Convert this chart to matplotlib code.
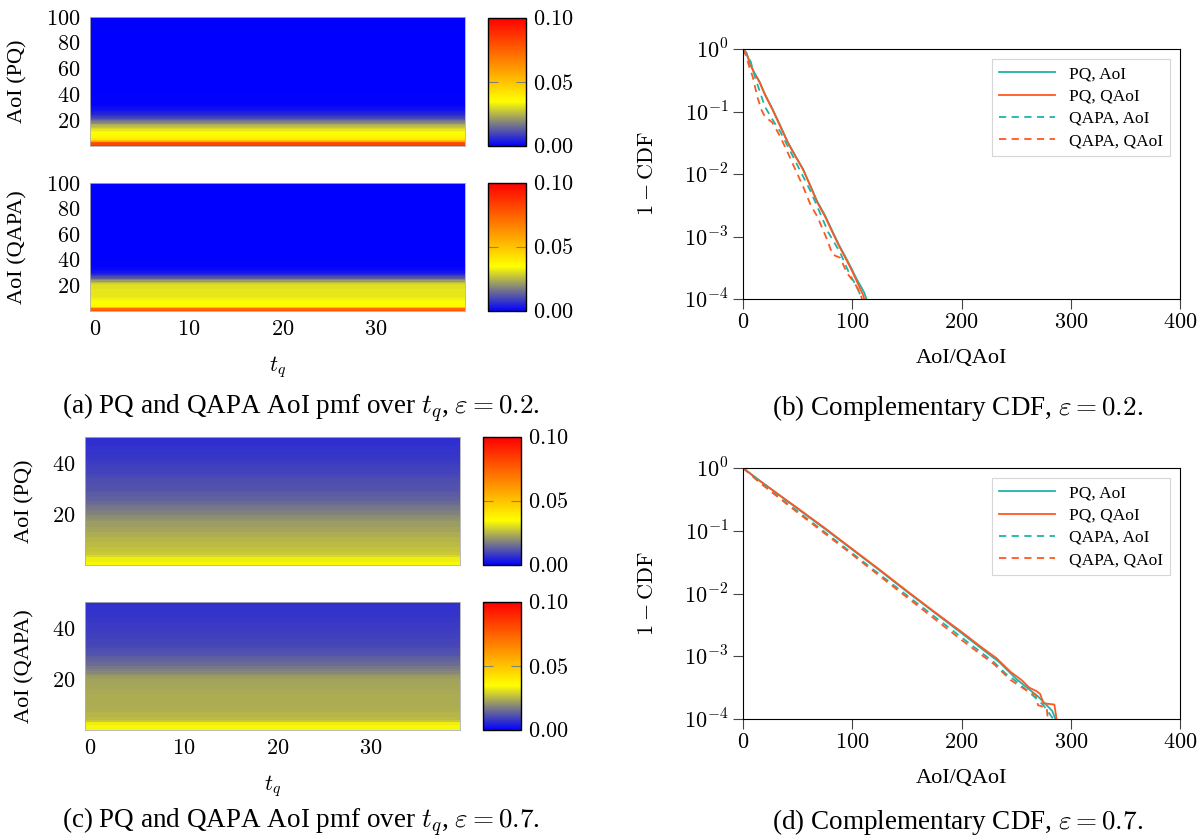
import numpy as np
import matplotlib
matplotlib.use('Agg')
import matplotlib.pyplot as plt
from matplotlib.colors import LinearSegmentedColormap
from matplotlib.ticker import FuncFormatter, FixedLocator, NullLocator

plt.rcParams['font.family'] = ['Liberation Serif', 'DejaVu Serif']
plt.rcParams['mathtext.fontset'] = 'cm'

#%% data ------------------------------------------------------------
t_q = np.arange(40)
aoi_02 = np.arange(1, 101)
aoi_07 = np.arange(1, 51)

# AoI pmf (same for every t_q), eps = 0.2
pmf_pq_02 = [0.085, 0.082, 0.078, 0.058, 0.050, 0.040, 0.037, 0.036, 0.036, 0.035,
             0.035, 0.034, 0.032, 0.030, 0.028, 0.026, 0.024, 0.021, 0.018, 0.016,
             0.013, 0.011, 0.009, 0.007, 0.006, 0.005, 0.004, 0.003, 0.0025, 0.002,
             0.0015, 0.001] + [0.0005]*8 + [0.0]*60
pmf_qapa_02 = [0.078, 0.072, 0.050, 0.038, 0.036, 0.036, 0.035, 0.035, 0.034, 0.033,
               0.033, 0.032, 0.032, 0.032, 0.032, 0.032, 0.032, 0.031, 0.031, 0.031,
               0.030, 0.029, 0.026, 0.022, 0.018, 0.014, 0.011, 0.008, 0.006, 0.004,
               0.003, 0.002, 0.0015, 0.001] + [0.0005]*6 + [0.0]*60
# eps = 0.7
pmf_pq_07 = [0.034, 0.033, 0.033, 0.030, 0.028, 0.027, 0.027, 0.026, 0.026, 0.025,
             0.025, 0.024, 0.024, 0.023, 0.023, 0.022, 0.022, 0.021, 0.020, 0.019,
             0.018, 0.0175, 0.017, 0.016, 0.015, 0.014, 0.0135, 0.013, 0.0125, 0.012,
             0.0118, 0.0115, 0.0112, 0.011, 0.0105, 0.010, 0.0097, 0.0094, 0.009, 0.0087,
             0.0085, 0.0082, 0.008, 0.0078, 0.0076, 0.0074, 0.0072, 0.007, 0.0069, 0.0068]
pmf_qapa_07 = [0.034, 0.034, 0.033, 0.028, 0.026, 0.025, 0.025, 0.0245, 0.0245, 0.024,
               0.024, 0.024, 0.024, 0.024, 0.0238, 0.0236, 0.0234, 0.0232, 0.023, 0.0228,
               0.022, 0.021, 0.019, 0.018, 0.017, 0.0155, 0.0145, 0.014, 0.013, 0.012,
               0.0115, 0.011, 0.0105, 0.010, 0.0098, 0.0095, 0.0093, 0.0091, 0.0089, 0.0087,
               0.0085, 0.0083, 0.0081, 0.0079, 0.0077, 0.0075, 0.0074, 0.0072, 0.0071, 0.007]

# complementary CDF, eps = 0.2
x_pq_aoi_02 = [0, 3, 7, 10, 15, 20, 27, 34, 41, 48, 55, 62, 68, 75, 82, 88, 93, 99, 104, 108, 111, 113]
y_pq_aoi_02 = [1.0, 0.871, 0.562, 0.427, 0.302, 0.191, 0.110, 0.0603, 0.0324, 0.0195, 0.0120,
               6.31e-3, 3.63e-3, 2.19e-3, 1.20e-3, 7.24e-4, 5.01e-4, 3.16e-4, 2.09e-4, 1.58e-4,
               1.26e-4, 1.0e-4]
x_pq_qaoi_02 = [0, 3, 7, 10, 15, 20, 27, 34, 41, 48, 55, 62, 68, 75, 82, 88, 93, 99, 104, 107, 110, 111]
y_pq_qaoi_02 = [1.0, 0.87, 0.55, 0.42, 0.30, 0.186, 0.107, 0.058, 0.0316, 0.0191, 0.0117,
                6.2e-3, 3.5e-3, 2.1e-3, 1.15e-3, 7.0e-4, 4.8e-4, 3.0e-4, 1.95e-4, 1.5e-4,
                1.15e-4, 1.0e-4]
x_qapa_aoi_02 = [0, 3, 7, 11, 15, 20, 27, 34, 44, 55, 62, 68, 78, 89, 97, 104, 109]
y_qapa_aoi_02 = [1.0, 0.832, 0.631, 0.355, 0.219, 0.120, 0.0741, 0.0479, 0.0219, 9.12e-3,
                 5.25e-3, 3.02e-3, 1.17e-3, 5.5e-4, 2.63e-4, 1.58e-4, 1.0e-4]
x_qapa_qaoi_02 = [0, 3, 6, 9, 13, 17, 20, 27, 34, 41, 48, 55, 62, 68, 77, 82, 89, 95, 102, 107, 109]
y_qapa_qaoi_02 = [1.0, 0.759, 0.501, 0.355, 0.174, 0.105, 0.0832, 0.0661, 0.0398, 0.0219, 0.0117,
                  6.31e-3, 3.16e-3, 2.09e-3, 8.91e-4, 5.13e-4, 4.57e-4, 2.63e-4, 1.82e-4,
                  1.26e-4, 1.0e-4]

# complementary CDF, eps = 0.7
x_pq_aoi_07 = [0, 15, 30, 50, 75, 100, 125, 150, 175, 200, 220, 235, 250, 260, 270, 278, 283, 286]
y_pq_aoi_07 = [1.0, 0.631, 0.407, 0.224, 0.107, 0.0501, 0.0234, 0.0107, 5.01e-3, 2.34e-3,
               1.26e-3, 7.94e-4, 4.37e-4, 3.16e-4, 2.29e-4, 1.66e-4, 1.35e-4, 1.0e-4]
x_pq_qaoi_07 = [0, 15, 30, 50, 75, 100, 125, 150, 175, 200, 220, 232, 245, 255, 262, 268, 272,
                275, 285, 287]
y_pq_qaoi_07 = [1.0, 0.631, 0.407, 0.229, 0.110, 0.0513, 0.0240, 0.0110, 5.13e-3, 2.45e-3,
                1.32e-3, 9.33e-4, 5.62e-4, 4.17e-4, 3.16e-4, 2.82e-4, 2.51e-4, 1.78e-4,
                1.70e-4, 1.0e-4]
x_qapa_aoi_07 = [0, 15, 25, 50, 100, 150, 200, 230, 240, 250, 265, 275, 284]
y_qapa_aoi_07 = [1.0, 0.617, 0.437, 0.204, 0.0437, 9.33e-3, 2.0e-3, 7.94e-4, 5.37e-4, 3.98e-4,
                 2.40e-4, 1.66e-4, 1.0e-4]
x_qapa_qaoi_07 = [0, 15, 50, 100, 150, 200, 230, 245, 260, 268, 270, 278, 279]
y_qapa_qaoi_07 = [1.0, 0.589, 0.195, 0.0417, 8.71e-3, 1.82e-3, 7.41e-4, 4.17e-4, 2.82e-4,
                  2.40e-4, 1.66e-4, 1.51e-4, 1.0e-4]

#%% style -----------------------------------------------------------
W, H = 1203, 839
cTeal = '#1fb3a8'
cOrange = '#ff5722'
szTick = 16
szLabel = 16
szCap = 19.5
szLegend = 12.5
cmapAoI = LinearSegmentedColormap.from_list(
    'aoi', [(0.0, '#0000ff'), (0.18, '#808080'), (0.35, '#ffff00'), (1.0, '#ff0000')])

fig = plt.figure(figsize=(W/100, H/100), dpi=100)

def pxAxes(l, t, r, b):
    return fig.add_axes([l/W, 1 - b/H, (r - l)/W, (b - t)/H])

mathFmt = FuncFormatter(lambda v, p: r'$%g$' % v)
cbarFmt = FuncFormatter(lambda v, p: r'$%.2f$' % v)
logFmt = FuncFormatter(lambda v, p: r'$10^{%d}$' % round(np.log10(v)))

def heatmap(ax, cax, pmf, aoi, yticks, ylabel, xlab):
    grid = np.tile(np.array(pmf)[:, None], (1, len(t_q)))
    im = ax.imshow(grid, cmap=cmapAoI, vmin=0, vmax=0.1, origin='lower', aspect='auto',
                   interpolation='nearest',
                   extent=[t_q[0]-0.5, t_q[-1]+0.5, aoi[0]-0.5, aoi[-1]+0.5])
    for s in ax.spines.values():
        s.set_color('#b0b0b0')
        s.set_linewidth(0.6)
    ax.yaxis.set_major_locator(FixedLocator(yticks))
    ax.xaxis.set_major_locator(FixedLocator([0, 10, 20, 30]))
    ax.yaxis.set_major_formatter(mathFmt)
    ax.xaxis.set_major_formatter(mathFmt)
    ax.tick_params(length=0, labelsize=szTick, pad=7)
    ax.set_ylabel(ylabel, fontsize=szLabel)
    if xlab:
        ax.set_xlabel(r'$t_q$', fontsize=szLabel, labelpad=10)
    else:
        ax.set_xticklabels([])
    cb = fig.colorbar(im, cax=cax)
    cb.set_ticks([0, 0.05, 0.1])
    cb.ax.yaxis.set_major_formatter(cbarFmt)
    cb.ax.tick_params(direction='in', length=7, color='gray', left=True, right=True,
                      labelsize=szTick, pad=5)
    cb.outline.set_linewidth(1.0)
    return im

def ccdf(ax, curves):
    for x, y, c, ls, lbl in curves:
        ax.plot(x, y, color=c, ls=ls, lw=1.3, label=lbl)
    ax.set_yscale('log')
    ax.set_ylim(1e-4, 1)
    ax.set_xlim(0, 400)
    ax.yaxis.set_major_locator(FixedLocator([1e-4, 1e-3, 1e-2, 1e-1, 1]))
    ax.yaxis.set_minor_locator(NullLocator())
    ax.yaxis.set_major_formatter(logFmt)
    ax.xaxis.set_major_locator(FixedLocator([0, 100, 200, 300, 400]))
    ax.xaxis.set_major_formatter(mathFmt)
    ax.tick_params(direction='out', length=7, labelsize=szTick, color='#444444')
    ax.set_ylabel(r'$1-\mathrm{CDF}$', fontsize=szLabel)
    ax.yaxis.set_label_coords(-0.195, 0.5)
    ax.set_xlabel('AoI/QAoI', fontsize=szLabel, labelpad=12)
    leg = ax.legend(loc='upper right', fontsize=szLegend, frameon=True, fancybox=False,
                    edgecolor='#cccccc', borderaxespad=0.6, handlelength=3.2,
                    labelspacing=0.35)
    leg.get_frame().set_linewidth(0.8)

#%% panels (a), (c): pmf heat maps ---------------------------------
ax0 = pxAxes(90, 17, 465, 146)
cax0 = pxAxes(488, 18, 526, 146)
heatmap(ax0, cax0, pmf_pq_02, aoi_02, [20, 40, 60, 80, 100], 'AoI (PQ)', False)
ax1 = pxAxes(90, 183, 465, 311)
cax1 = pxAxes(488, 183, 526, 311)
heatmap(ax1, cax1, pmf_qapa_02, aoi_02, [20, 40, 60, 80, 100], 'AoI (QAPA)', True)
for ax in [ax0, ax1]:
    ax.yaxis.set_label_coords(-0.168, 0.5)

ax4 = pxAxes(85, 437, 460, 565)
cax4 = pxAxes(483, 437, 521, 565)
heatmap(ax4, cax4, pmf_pq_07, aoi_07, [20, 40], 'AoI (PQ)', False)
ax5 = pxAxes(85, 602, 460, 730)
cax5 = pxAxes(483, 602, 521, 730)
heatmap(ax5, cax5, pmf_qapa_07, aoi_07, [20, 40], 'AoI (QAPA)', True)
for ax in [ax4, ax5]:
    ax.yaxis.set_label_coords(-0.136, 0.5)

#%% panels (b), (d): complementary CDF ------------------------------
ax2 = pxAxes(743, 49, 1180, 299)
ccdf(ax2, [(x_pq_aoi_02, y_pq_aoi_02, cTeal, '-', 'PQ, AoI'),
           (x_pq_qaoi_02, y_pq_qaoi_02, cOrange, '-', 'PQ, QAoI'),
           (x_qapa_aoi_02, y_qapa_aoi_02, cTeal, (0, (4, 3)), 'QAPA, AoI'),
           (x_qapa_qaoi_02, y_qapa_qaoi_02, cOrange, (0, (4, 3)), 'QAPA, QAoI')])
ax3 = pxAxes(743, 468, 1180, 719)
ccdf(ax3, [(x_pq_aoi_07, y_pq_aoi_07, cTeal, '-', 'PQ, AoI'),
           (x_pq_qaoi_07, y_pq_qaoi_07, cOrange, '-', 'PQ, QAoI'),
           (x_qapa_aoi_07, y_qapa_aoi_07, cTeal, (0, (4, 3)), 'QAPA, AoI'),
           (x_qapa_qaoi_07, y_qapa_qaoi_07, cOrange, (0, (4, 3)), 'QAPA, QAoI')])

#%% captions --------------------------------------------------------
fig.text(301/W, 1 - 408/H, r'(a) PQ and QAPA AoI pmf over $t_q$, $\varepsilon=0.2$.',
         ha='center', va='center', fontsize=szCap)
fig.text(958/W, 1 - 408/H, r'(b) Complementary CDF, $\varepsilon=0.2$.',
         ha='center', va='center', fontsize=szCap)
fig.text(301/W, 1 - 822/H, r'(c) PQ and QAPA AoI pmf over $t_q$, $\varepsilon=0.7$.',
         ha='center', va='center', fontsize=szCap)
fig.text(958/W, 1 - 822/H, r'(d) Complementary CDF, $\varepsilon=0.7$.',
         ha='center', va='center', fontsize=szCap)

fig.savefig('out.png', dpi=100)
